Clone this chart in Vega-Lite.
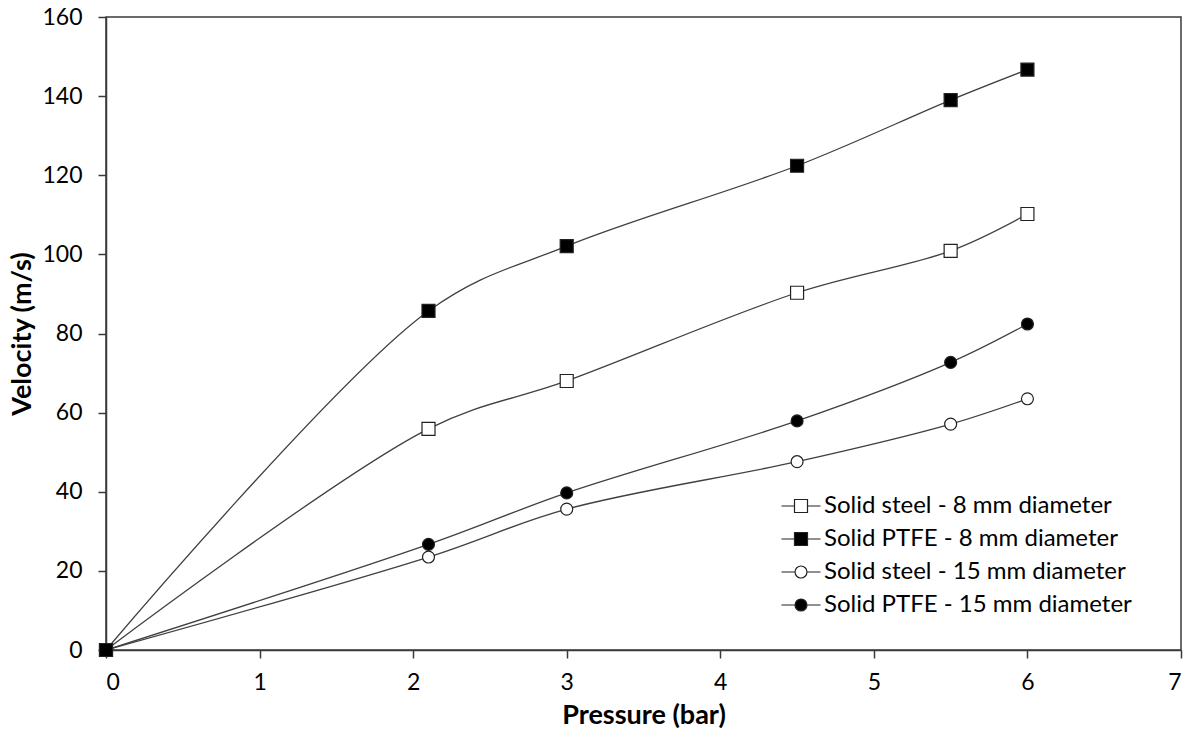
{
  "$schema": "https://vega.github.io/schema/vega-lite/v6.json",
  "width": 1075,
  "height": 633,
  "autosize": "none",
  "padding": {"left": 106, "top": 17, "right": 18, "bottom": 90},
  "background": "white",
  "config": {
    "font": "Lato",
    "view": {"stroke": "#3a3a3a", "strokeWidth": 1.5},
    "axis": {
      "grid": false,
      "domainColor": "#3a3a3a",
      "domainWidth": 1.5,
      "tickColor": "#3a3a3a",
      "tickWidth": 1.5,
      "tickSize": 8,
      "labelFont": "Lato",
      "labelFontSize": 23,
      "labelColor": "#000000",
      "titleFont": "Lato",
      "titleFontSize": 27,
      "titleFontWeight": "bold",
      "titleColor": "#000000"
    },
    "legend": {
      "title": null,
      "orient": "none",
      "legendX": 683,
      "legendY": 477,
      "padding": 0,
      "labelFont": "Lato",
      "labelFontSize": 24,
      "labelColor": "#000000",
      "labelLimit": 0,
      "labelOffset": 11,
      "rowPadding": 9,
      "symbolSize": 169,
      "symbolStrokeWidth": 1.2
    }
  },
  "data": {
    "values": [
      {"series": "Solid steel - 15 mm diameter", "pressure": 0, "velocity": 0},
      {"series": "Solid steel - 15 mm diameter", "pressure": 2.1, "velocity": 23.5},
      {"series": "Solid steel - 15 mm diameter", "pressure": 3, "velocity": 35.6},
      {"series": "Solid steel - 15 mm diameter", "pressure": 4.5, "velocity": 47.6},
      {"series": "Solid steel - 15 mm diameter", "pressure": 5.5, "velocity": 57.1},
      {"series": "Solid steel - 15 mm diameter", "pressure": 6, "velocity": 63.5},
      {"series": "Solid PTFE - 15 mm diameter", "pressure": 0, "velocity": 0},
      {"series": "Solid PTFE - 15 mm diameter", "pressure": 2.1, "velocity": 26.7},
      {"series": "Solid PTFE - 15 mm diameter", "pressure": 3, "velocity": 39.7},
      {"series": "Solid PTFE - 15 mm diameter", "pressure": 4.5, "velocity": 57.9},
      {"series": "Solid PTFE - 15 mm diameter", "pressure": 5.5, "velocity": 72.7},
      {"series": "Solid PTFE - 15 mm diameter", "pressure": 6, "velocity": 82.4},
      {"series": "Solid steel - 8 mm diameter", "pressure": 0, "velocity": 0},
      {"series": "Solid steel - 8 mm diameter", "pressure": 2.1, "velocity": 55.9},
      {"series": "Solid steel - 8 mm diameter", "pressure": 3, "velocity": 68},
      {"series": "Solid steel - 8 mm diameter", "pressure": 4.5, "velocity": 90.3},
      {"series": "Solid steel - 8 mm diameter", "pressure": 5.5, "velocity": 100.9},
      {"series": "Solid steel - 8 mm diameter", "pressure": 6, "velocity": 110.2},
      {"series": "Solid PTFE - 8 mm diameter", "pressure": 0, "velocity": 0},
      {"series": "Solid PTFE - 8 mm diameter", "pressure": 2.1, "velocity": 85.7},
      {"series": "Solid PTFE - 8 mm diameter", "pressure": 3, "velocity": 102.1},
      {"series": "Solid PTFE - 8 mm diameter", "pressure": 4.5, "velocity": 122.4},
      {"series": "Solid PTFE - 8 mm diameter", "pressure": 5.5, "velocity": 139},
      {"series": "Solid PTFE - 8 mm diameter", "pressure": 6, "velocity": 146.7}
    ]
  },
  "encoding": {
    "x": {
      "field": "pressure",
      "type": "quantitative",
      "title": "Pressure (bar)",
      "scale": {"domain": [0, 7], "nice": false},
      "axis": {"values": [0, 1, 2, 3, 4, 5, 6, 7], "labelPadding": 13, "titlePadding": 8}
    },
    "y": {
      "field": "velocity",
      "type": "quantitative",
      "title": "Velocity (m/s)",
      "scale": {"domain": [0, 160], "nice": false},
      "axis": {"values": [0, 20, 40, 60, 80, 100, 120, 140, 160], "labelPadding": 16, "titlePadding": 5}
    }
  },
  "layer": [
    {
      "mark": {"type": "line", "interpolate": "catmull-rom", "color": "#404040", "strokeWidth": 1.3},
      "encoding": {"detail": {"field": "series", "type": "nominal"}}
    },
    {
      "mark": {"type": "point", "filled": false, "size": 169, "stroke": "#222222", "strokeWidth": 1.2, "opacity": 1},
      "encoding": {
        "shape": {
          "field": "series",
          "type": "nominal",
          "legend": null,
          "scale": {
            "domain": ["Solid steel - 8 mm diameter", "Solid PTFE - 8 mm diameter", "Solid steel - 15 mm diameter", "Solid PTFE - 15 mm diameter"],
            "range": ["square", "square", "M-0.92,0A0.92,0.92,0,1,0,0.92,0A0.92,0.92,0,1,0,-0.92,0Z", "M-0.92,0A0.92,0.92,0,1,0,0.92,0A0.92,0.92,0,1,0,-0.92,0Z"]
          }
        },
        "fill": {
          "field": "series",
          "type": "nominal",
          "legend": null,
          "scale": {
            "domain": ["Solid steel - 8 mm diameter", "Solid PTFE - 8 mm diameter", "Solid steel - 15 mm diameter", "Solid PTFE - 15 mm diameter"],
            "range": ["#ffffff", "#000000", "#ffffff", "#000000"]
          }
        }
      }
    },
    {
      "transform": [{"filter": "datum.pressure < 0"}],
      "mark": {"type": "point", "filled": false, "size": 169, "stroke": "#222222", "strokeWidth": 1.2, "opacity": 1},
      "encoding": {
        "shape": {
          "field": "series",
          "type": "nominal",
          "scale": {
            "domain": ["Solid steel - 8 mm diameter", "Solid PTFE - 8 mm diameter", "Solid steel - 15 mm diameter", "Solid PTFE - 15 mm diameter"],
            "range": [
              "M-3,0H-1M1,0H3M-1,-1H1V1H-1Z",
              "M-3,0H-1M1,0H3M-1,-1H1V1H-1Z",
              "M-3,0H-0.92M0.92,0H3M-0.92,0A0.92,0.92,0,1,0,0.92,0A0.92,0.92,0,1,0,-0.92,0Z",
              "M-3,0H-0.92M0.92,0H3M-0.92,0A0.92,0.92,0,1,0,0.92,0A0.92,0.92,0,1,0,-0.92,0Z"
            ]
          }
        },
        "fill": {
          "field": "series",
          "type": "nominal",
          "scale": {
            "domain": ["Solid steel - 8 mm diameter", "Solid PTFE - 8 mm diameter", "Solid steel - 15 mm diameter", "Solid PTFE - 15 mm diameter"],
            "range": ["#ffffff", "#000000", "#ffffff", "#000000"]
          }
        }
      }
    }
  ],
  "resolve": {"scale": {"shape": "independent", "fill": "independent"}}
}
